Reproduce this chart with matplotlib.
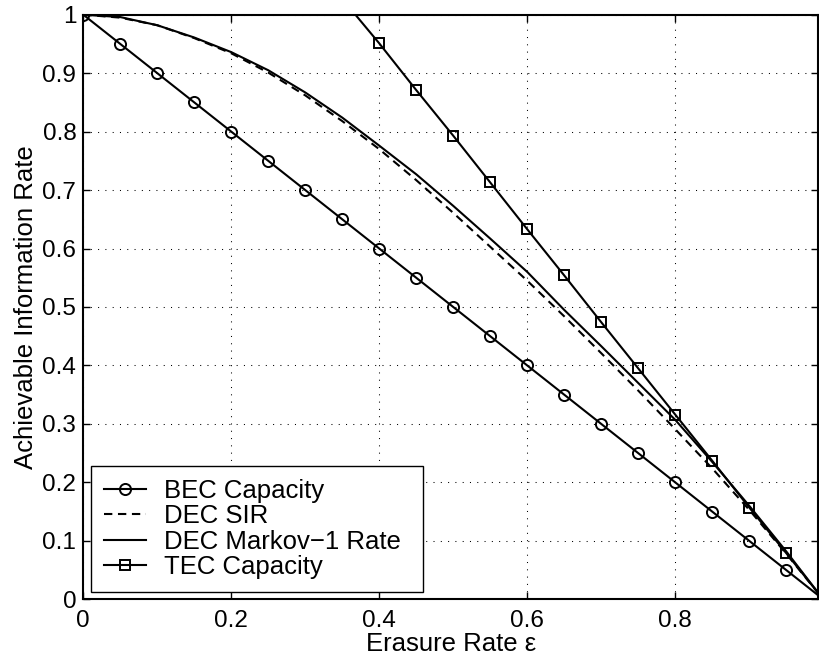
"""
Achievable information rate vs erasure rate for BEC/DEC/TEC channels.
"""

import matplotlib

matplotlib.use("Agg")
import matplotlib.pyplot as plt

# Data
eps = [0.0, 0.05, 0.1, 0.15, 0.2, 0.25, 0.3, 0.35, 0.4, 0.45, 0.5,
       0.55, 0.6, 0.65, 0.7, 0.75, 0.8, 0.85, 0.9, 0.95, 1.0]

bec_capacity = [1.0, 0.95, 0.9, 0.85, 0.8, 0.75, 0.7, 0.65, 0.6, 0.55, 0.5,
                0.45, 0.4, 0.35, 0.3, 0.25, 0.2, 0.15, 0.1, 0.05, 0.0]

dec_sir = [1.0, 0.995, 0.982, 0.96, 0.934, 0.901, 0.862, 0.818, 0.77,
           0.717, 0.661, 0.603, 0.545, 0.484, 0.421, 0.357, 0.291, 0.224,
           0.153, 0.078, 0.0]

dec_markov1 = [1.0, 0.996, 0.982, 0.961, 0.936, 0.905, 0.867, 0.824, 0.776,
               0.727, 0.673, 0.617, 0.56, 0.495, 0.433, 0.37, 0.307, 0.235,
               0.16, 0.082, 0.0]

tec_eps = [0.35, 0.4, 0.45, 0.5, 0.55, 0.6, 0.65, 0.7, 0.75, 0.8, 0.85,
           0.9, 0.95, 1.0]
tec_capacity = [1.027, 0.951, 0.871, 0.793, 0.713, 0.633, 0.554, 0.474,
                0.395, 0.316, 0.237, 0.157, 0.079, 0.0]

x_ticks = [0, 0.2, 0.4, 0.6, 0.8]
x_tick_labels = ["0", "0.2", "0.4", "0.6", "0.8"]
y_ticks = [0, 0.1, 0.2, 0.3, 0.4, 0.5, 0.6, 0.7, 0.8, 0.9, 1.0]
y_tick_labels = ["0", "0.1", "0.2", "0.3", "0.4", "0.5", "0.6", "0.7",
                 "0.8", "0.9", "1"]

plt.rcParams["font.family"] = ["Liberation Sans", "DejaVu Sans"]

fig = plt.figure(figsize=(8.19, 6.6), dpi=100)
ax = fig.add_axes([0.1017, 0.092, 0.8971, 0.8857])

lw = 1.5
ax.plot(eps, bec_capacity, color="black", lw=lw, marker="o", ms=8,
        mfc="none", mew=1.4, label="BEC Capacity")
ax.plot(eps, dec_sir, color="black", lw=lw, ls=(0, (4, 2.7)),
        label="DEC SIR")
ax.plot(eps, dec_markov1, color="black", lw=lw, label="DEC Markov\u22121 Rate")
ax.plot(tec_eps, tec_capacity, color="black", lw=lw, marker="s", ms=6.5,
        mfc="none", mew=1.4, label="TEC Capacity")

ax.set_xlim(0, 0.993)
ax.set_ylim(0, 1)
ax.set_xticks(x_ticks, x_tick_labels)
ax.set_yticks(y_ticks, y_tick_labels)

ax.grid(True, color="black", ls=(0, (1, 6)), lw=0.75)
ax.tick_params(direction="in", length=5, width=1, top=True, right=True,
               labelsize=17.5, colors="black")
ax.tick_params(axis="x", pad=8)
ax.tick_params(axis="y", pad=5)
for spine in ax.spines.values():
    spine.set_linewidth(1.5)

ax.set_xlabel("Erasure Rate \u03b5", fontsize=18.5, labelpad=0)
ax.set_ylabel("Achievable Information Rate", fontsize=18.5, labelpad=3)

leg = ax.legend(
    loc="lower left",
    bbox_to_anchor=(0.0105, 0.0125, 0.452, 0.22),
    mode="expand",
    fontsize=18.5,
    frameon=True,
    fancybox=False,
    framealpha=1,
    edgecolor="black",
    borderpad=0.5,
    labelspacing=0.06,
    handlelength=1.65,
    handletextpad=0.7,
    borderaxespad=0,
)
leg.get_frame().set_linewidth(1.0)

fig.savefig("out.png", dpi=100)
